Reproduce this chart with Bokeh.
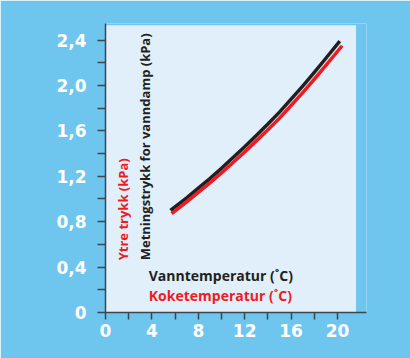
import math
from bokeh.plotting import figure
from bokeh.models import Range1d, FixedTicker, BoxAnnotation, Label, CustomJSTickFormatter
from bokeh.embed import file_html
from bokeh.resources import INLINE

# ---- data ----
water_temp = [5.6, 7, 8, 9, 10, 11, 12, 13, 14, 15, 16, 17, 18, 19, 20.2]
vapor_pressure = [0.90, 1.01, 1.095, 1.18, 1.27, 1.365, 1.46, 1.56, 1.66, 1.765, 1.88, 1.995,
                  2.115, 2.24, 2.39]
boil_temp = [5.7, 7, 8, 9, 10, 11, 12, 13, 14, 15, 16, 17, 18, 19, 20.4]
outer_pressure = [0.87, 0.975, 1.058, 1.142, 1.23, 1.322, 1.415, 1.512, 1.61, 1.712, 1.824, 1.937,
                  2.055, 2.178, 2.35]

x_ticks = [0, 4, 8, 12, 16, 20]
x_labels = ["0", "4", "8", "12", "16", "20"]
x_minor = [2, 6, 10, 14, 18]
y_ticks = [0, 0.4, 0.8, 1.2, 1.6, 2.0, 2.4]
y_labels = ["0", "0,4", "0,8", "1,2", "1,6", "2,0", "2,4"]
y_minor = [0.2, 0.6, 1.0, 1.4, 1.8, 2.2]

y_title_black = "Metningstrykk for vanndamp (kPa)"
y_title_red = "Ytre trykk (kPa)"
x_title_black = "Vanntemperatur (˚C)"
x_title_red = "Koketemperatur (˚C)"

# ---- styles ----
BLUE = "#6EC5EE"
PANEL = "#E1EFFA"
RED = "#ED1C24"
BLACK = "#231F20"
AXIS = "#3A4650"
LABEL_FONT = "Open Sans"
TICK_FONT = "DejaVu Sans"

p = figure(width=410, height=358, output_backend="svg", toolbar_location=None,
           x_range=Range1d(0, 22.5), y_range=Range1d(0, 2.546),
           min_border_left=105, min_border_right=44, min_border_top=23, min_border_bottom=46)
p.background_fill_color = BLUE
p.border_fill_color = BLUE
p.outline_line_color = None
p.xgrid.visible = False
p.ygrid.visible = False

panel = BoxAnnotation(left=0, right=21.6, bottom=0, top=2.53, fill_color=PANEL, fill_alpha=1,
                      line_alpha=0, level="underlay")
p.add_layout(panel)

p.line(water_temp, vapor_pressure, line_color=BLACK, line_width=3.5, line_join="round")
p.line(boil_temp, outer_pressure, line_color=RED, line_width=3.5, line_join="round")

fmt_code = """
const i = tick_vals.findIndex(t => Math.abs(t - tick) < 1e-6);
return i >= 0 ? tick_texts[i] : '';
"""

for ax, ticks, minor, labels in ((p.xaxis[0], x_ticks, x_minor, x_labels),
                                 (p.yaxis[0], y_ticks, y_minor, y_labels)):
    ax.ticker = FixedTicker(ticks=ticks, minor_ticks=minor)
    ax.formatter = CustomJSTickFormatter(args=dict(tick_vals=ticks, tick_texts=labels), code=fmt_code)
    ax.axis_line_color = AXIS
    ax.axis_line_width = 1.5
    ax.major_tick_line_color = AXIS
    ax.minor_tick_line_color = AXIS
    ax.major_tick_line_width = 1.5
    ax.minor_tick_line_width = 1.5
    ax.major_tick_in = 0
    ax.minor_tick_in = 0
    ax.major_label_text_color = "white"
    ax.major_label_text_font = TICK_FONT
    ax.major_label_text_font_style = "bold"
    ax.major_label_text_font_size = "17px"

p.xaxis.major_tick_out = 7
p.xaxis.minor_tick_out = 7
p.xaxis.major_label_standoff = 4
p.yaxis.major_tick_out = 8
p.yaxis.minor_tick_out = 8
p.yaxis.major_label_standoff = 11

p.add_layout(Label(x=3.73, y=0.329, text=x_title_black, text_font=LABEL_FONT, text_font_size="14px",
                   text_font_style="bold", text_color=BLACK, text_baseline="middle", text_align="left"))
p.add_layout(Label(x=3.73, y=0.152, text=x_title_red, text_font=LABEL_FONT, text_font_size="14px",
                   text_font_style="bold", text_color=RED, text_baseline="middle", text_align="left"))
p.add_layout(Label(x=3.39, y=0.46, angle=math.pi / 2, text=y_title_black, text_font=LABEL_FONT,
                   text_font_size="13px", text_font_style="bold", text_color=BLACK,
                   text_baseline="middle", text_align="left"))
p.add_layout(Label(x=1.5, y=0.46, angle=math.pi / 2, text=y_title_red, text_font=LABEL_FONT,
                   text_font_size="13px", text_font_style="bold", text_color=RED,
                   text_baseline="middle", text_align="left"))

open("out.html", "w").write(file_html(p, INLINE))
